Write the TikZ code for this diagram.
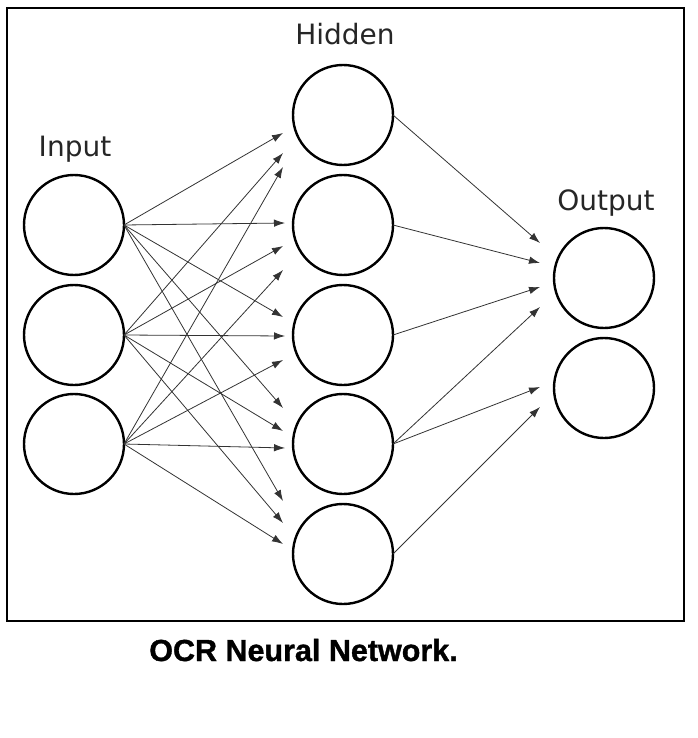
\documentclass[tikz,border=0pt]{standalone}
\usepackage{fontspec}
\newfontfamily\labfont{DejaVu Sans}
\newfontfamily\capfont[BoldFeatures={FakeBold=1.2}]{Liberation Sans}
\usetikzlibrary{arrows.meta}
\begin{document}
\begin{tikzpicture}[x=1pt,y=-1pt,
  neuron/.style={circle,draw=black,line width=2.4pt,minimum size=100pt,inner sep=0pt,outer sep=0pt},
  conn/.style={draw=black!80,line width=0.8pt,-{Latex[length=11pt,width=7.5pt]}},
  lab/.style={font=\labfont\fontsize{28}{30}\selectfont,anchor=base,inner sep=0pt,text=black!85},
  captxt/.style={font=\capfont\bfseries\fontsize{30.5}{32}\selectfont,anchor=base,inner sep=0pt},
  framebox/.style={draw=black,line width=2pt}]
\useasboundingbox (0,0) rectangle (697,738);
\draw[framebox] (7,8) rectangle (684,621);

% labels
\node[lab] (tin) at (75,157) {Input};
\node[lab] (thid) at (345,45) {Hidden};
\node[lab] (tout) at (606,210) {Output};
\node[captxt] (cap) at (303.5,661) {OCR Neural Network.};

% neurons
\node[neuron] (i1) at (74,225) {};
\node[neuron] (i2) at (74,335) {};
\node[neuron] (i3) at (74,444) {};
\node[neuron] (h1) at (343,115) {};
\node[neuron] (h2) at (343,225) {};
\node[neuron] (h3) at (343,335) {};
\node[neuron] (h4) at (343,444) {};
\node[neuron] (h5) at (343,554) {};
\node[neuron] (o1) at (604,278) {};
\node[neuron] (o2) at (604,388) {};

% input -> hidden
\draw[conn] (i1.east) -- ([shift={(-10,18)}]h1.west);
\draw[conn] (i2.east) -- ([shift={(-10,38)}]h1.west);
\draw[conn] (i3.east) -- ([shift={(-10,52)}]h1.west);
\draw[conn] (i1.east) -- ([shift={(-8,-2)}]h2.west);
\draw[conn] (i2.east) -- ([shift={(-10,21)}]h2.west);
\draw[conn] (i3.east) -- ([shift={(-10,45)}]h2.west);
\draw[conn] (i1.east) -- ([shift={(-10,-18)}]h3.west);
\draw[conn] (i2.east) -- ([shift={(-8,1)}]h3.west);
\draw[conn] (i3.east) -- ([shift={(-10,25)}]h3.west);
\draw[conn] (i1.east) -- ([shift={(-10,-36)}]h4.west);
\draw[conn] (i2.east) -- ([shift={(-10,-13)}]h4.west);
\draw[conn] (i3.east) -- ([shift={(-8,4)}]h4.west);
\draw[conn] (i1.east) -- ([shift={(-10,-53)}]h5.west);
\draw[conn] (i2.east) -- ([shift={(-10,-31)}]h5.west);
\draw[conn] (i3.east) -- ([shift={(-10,-10)}]h5.west);

% hidden -> output
\draw[conn] (h1.east) -- ([shift={(-14,-35)}]o1.west);
\draw[conn] (h2.east) -- ([shift={(-14,-15)}]o1.west);
\draw[conn] (h3.east) -- ([shift={(-14,9)}]o1.west);
\draw[conn] (h4.east) -- ([shift={(-14,29)}]o1.west);
\draw[conn] (h4.east) -- ([shift={(-14,-1)}]o2.west);
\draw[conn] (h5.east) -- ([shift={(-14,19)}]o2.west);
\end{tikzpicture}
\end{document}
